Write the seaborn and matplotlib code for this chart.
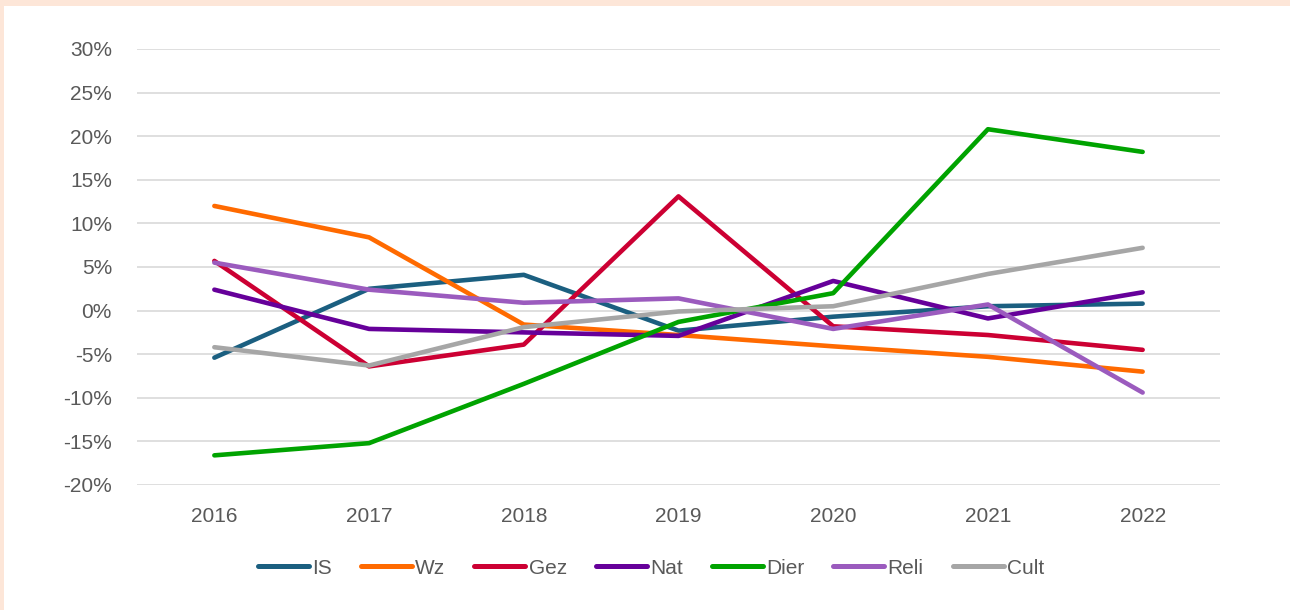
import numpy as np
import pandas as pd
import matplotlib.pyplot as plt
import seaborn as sns
from matplotlib.patches import Rectangle
from matplotlib.ticker import PercentFormatter

# ============== data ==============
years = [2016, 2017, 2018, 2019, 2020, 2021, 2022]
series_names = ['IS', 'Wz', 'Gez', 'Nat', 'Dier', 'Reli', 'Cult']

is_vals   = [-5.4, 2.5, 4.1, -2.3, -0.7, 0.5, 0.8]
wz_vals   = [12.0, 8.4, -1.6, -2.8, -4.1, -5.3, -7.0]
gez_vals  = [5.7, -6.4, -3.9, 13.1, -1.8, -2.8, -4.5]
nat_vals  = [2.4, -2.1, -2.5, -2.9, 3.4, -0.9, 2.1]
dier_vals = [-16.6, -15.2, -8.4, -1.3, 2.0, 20.8, 18.2]
reli_vals = [5.5, 2.4, 0.9, 1.4, -2.1, 0.7, -9.4]
cult_vals = [-4.2, -6.3, -1.9, -0.1, 0.5, 4.2, 7.2]

y_ticks = [-20, -15, -10, -5, 0, 5, 10, 15, 20, 25, 30]

colors = {
    'IS':   '#1B5F80',
    'Wz':   '#FF6A00',
    'Gez':  '#CC0033',
    'Nat':  '#66009A',
    'Dier': '#00A300',
    'Reli': '#9B5BBE',
    'Cult': '#A6A6A6',
}

values = [is_vals, wz_vals, gez_vals, nat_vals, dier_vals, reli_vals, cult_vals]
df = pd.DataFrame([
    {'year': y, 'value': v, 'series': name}
    for name, vals in zip(series_names, values)
    for y, v in zip(years, vals)
])

# ============== plot ==============
sns.set_style('white')
plt.rcParams['font.family'] = ['Liberation Sans', 'DejaVu Sans']
plt.rcParams['axes.unicode_minus'] = False

fig = plt.figure(figsize=(12.9, 6.1), dpi=100)
fig.patch.set_facecolor('#FDE6D8')
# white card, peach strip only on top/left
fig.patches.append(Rectangle((4 / 1290, 0), 1 - 4 / 1290, 1 - 6 / 610,
                             transform=fig.transFigure, facecolor='white',
                             edgecolor='none', zorder=-1))

ax = fig.add_axes([137 / 1290, 1 - 485 / 610, (1220 - 137) / 1290, (485 - 49) / 610])
ax.set_facecolor('none')
ax.set_zorder(2)

sns.lineplot(data=df, x='year', y='value', hue='series', hue_order=series_names,
             palette=colors, linewidth=3.3, sort=False, ax=ax,
             solid_capstyle='round', legend=True)

ax.set_xlim(2015.5, 2022.5)
ax.set_ylim(-20, 30)
ax.set_xticks(years)
ax.set_yticks(y_ticks)
ax.yaxis.set_major_formatter(PercentFormatter(decimals=0))
ax.grid(axis='y', color='#D9D9D9', linewidth=1.2)
ax.set_axisbelow(True)
for s in ax.spines.values():
    s.set_visible(False)
ax.tick_params(axis='both', length=0, labelsize=15, colors='#595959')
ax.tick_params(axis='y', pad=18)
ax.tick_params(axis='x', pad=15.5)
ax.set_xlabel('')
ax.set_ylabel('')

handles, labels = ax.get_legend_handles_labels()
for h in handles:
    h.set_linewidth(3.6)
    h.set_solid_capstyle('round')
leg = fig.legend(handles, labels, loc='center', bbox_to_anchor=(651 / 1290, 1 - 568 / 610),
                 ncol=7, frameon=False, fontsize=15, handlelength=2.45,
                 handletextpad=0.15, columnspacing=1.4)
ax.get_legend().remove()
for t in leg.get_texts():
    t.set_color('#595959')

fig.savefig('out.png', dpi=100, facecolor=fig.get_facecolor())
